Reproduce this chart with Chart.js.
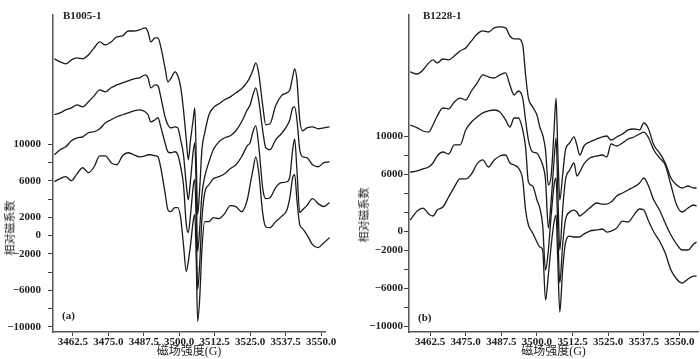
<!DOCTYPE html>
<html>
<head>
<meta charset="utf-8">
<script src="https://cdn.jsdelivr.net/npm/chart.js@4.4.0/dist/chart.umd.min.js"></script>
<style>
    body { margin: 0; background: #fff; width: 700px; height: 359px; position: relative; overflow: hidden; }
    canvas { position: absolute; top: 0; }
    .lbl { position: absolute; font-family: 'Liberation Serif', serif; font-weight: bold; font-size: 11px; color: #222; white-space: nowrap; }
    .ytitle { position: absolute; font-family: 'Noto Sans CJK SC', sans-serif; font-size: 11px; color: #222; white-space: nowrap; transform: translate(-50%, -50%) rotate(-90deg); }
</style>
</head>
<body>
<canvas id="chartA" width="350" height="359" style="left:0"></canvas>
<canvas id="chartB" width="350" height="359" style="left:350px"></canvas>

<div class="lbl" style="left:63px;top:9px">B1005-1</div>
<div class="lbl" style="left:423px;top:9px">B1228-1</div>
<div class="lbl" style="left:62px;top:309px">(a)</div>
<div class="lbl" style="left:418px;top:311px">(b)</div>
<div class="ytitle" style="left:9px;top:228px">相对磁系数</div>
<div class="ytitle" style="left:363px;top:215px">相对磁系数</div>

<script>
// field (G) and relative magnetic values
const xTicks = [3462.5, 3475.0, 3487.5, 3500.0, 3512.5, 3525.0, 3537.5, 3550.0];
const yTicks = [-10000, -8000, -6000, -4000, -2000, 0, 2000, 4000, 6000, 8000, 10000];
const leftYLabels = [10000, 6000, 2000, 0, -2000, -6000, -10000];
const rightYLabels = [10000, 6000, 0, -2000, -6000, -10000];

// panel (a) B1005-1
const leftField = [3456,3458,3460,3462,3464,3466,3468,3470,3472,3474,3476,3478,3480,3482,3484,3486,3488,3489,3490,3491.5,
    3492.5,3493.5,3495,3496,3497,3498.5,3499.5,3500.5,3501.5,3502.5,3503.2,3504,3505,3505.5,3506,3506.5,3507.2,3508,3509,3510.5,
    3512,3514,3516,3518,3520,3522,3524,3525,3526,3527,3528,3529.5,3530.5,3532,3534,3536,3538,3539,3540,3540.7,
    3541.5,3542.5,3543.5,3545,3547,3549,3551,3553,3555];
const left1 = [19350,19020,18800,19240,19450,19350,19780,20550,21200,20880,21200,21750,21860,22400,22400,22520,22730,22300,21200,21640,
    21640,20660,18360,16830,17160,17930,17490,16290,13770,10490,8310,10490,12900,13990,8310,2300,5030,9400,11260,13230,
    13990,14430,14870,15190,15630,16070,16830,17380,18140,18910,17820,14100,12130,12240,14210,15300,15630,15960,17380,18250,
    17050,12680,11480,11800,11910,11700,11800,11910,11700];
const left2 = [13230,13440,13770,13990,14320,14100,14650,15300,15960,15740,16180,16500,16720,16940,17160,17270,17600,17270,16180,16500,
    16400,15190,13010,12130,11800,11910,11800,10490,8850,5570,3930,6120,9400,10160,5030,-1750,660,4480,6450,8090,
    9400,10270,10710,10930,11480,12460,13770,14320,15410,16180,14870,11370,9620,9400,10490,11150,12020,12680,13990,14100,
    12680,9400,8630,8530,7760,7540,7980,8090,8420];
const left3 = [8850,9400,9730,10380,10710,10820,11260,11370,11700,12350,12680,13010,13230,13440,13660,13770,13550,13230,12460,12680,
    12900,11910,10160,9180,9070,9180,8850,7540,5570,1200,330,2300,5570,6120,1200,-5900,-3170,1750,4700,5570,
    6230,6450,6780,7320,7760,8630,9840,10160,11370,12020,9950,5030,4040,4150,5250,5790,5900,6450,9400,10600,
    7210,2510,2840,3280,4040,3500,3170,3610,3830];
const left4 = [5900,6230,6450,6010,6780,7430,6890,7540,8740,8740,7980,7760,8740,9070,8850,8630,8740,8850,8850,8740,
    8630,7430,4700,2840,2620,3060,3060,1970,-980,-3930,-2840,-980,1750,2300,-2620,-9400,-7000,-1530,1530,1530,
    1970,1860,2400,3280,3170,2620,3930,5570,7210,8630,7000,2300,980,870,1530,2080,2840,4150,6340,6670,
    3930,1200,770,110,-980,-1310,-770,-220,550];

// panel (b) B1228-1
const rightField = [3455.5,3458,3460,3462,3463.5,3465,3467,3469,3471,3473,3475,3477,3479,3481,3483,3485,3487,3489,3490.5,3492,
    3493.5,3495,3496,3497,3498.5,3500,3501,3502,3503,3504,3505,3506,3506.7,3507.3,3508,3509,3510,3511.5,3513,3514,
    3515,3516.5,3518.5,3521,3523,3524.5,3526,3528,3530,3532,3534,3536,3537.5,3539,3541,3543,3545,3547,3549,3551,
    3553,3555,3556];
const right1 = [16740,16530,16950,17690,18010,17690,18110,18010,18430,18950,19270,20010,20740,21060,20950,21380,21480,21380,20530,20220,
    20220,19590,16430,14000,13060,12210,10950,10110,8530,4840,5900,10640,14000,8530,3260,5900,8530,9270,9900,9060,
    8000,8950,9370,9690,9900,10000,9580,9900,10210,10640,10740,10640,11370,10850,9060,8210,7160,5580,4840,4530,
    4740,4530,4530];
const right2 = [11160,10850,10530,10420,11160,12110,12950,12850,13580,14000,13790,14740,15580,16430,16220,16110,16430,16640,15370,14320,
    14740,14000,11690,9580,8320,8210,7690,6950,5370,320,3260,7480,9790,4320,-2000,2210,5370,6420,7160,5790,
    6210,7060,7690,7900,8000,7790,9160,8950,9270,9690,9900,10210,10420,9900,8530,7690,6950,4840,2740,2000,
    2420,2740,2630];
const right3 = [6210,6320,6530,6740,7160,7900,8320,8110,9060,9060,10640,11480,12000,12430,12640,12740,12530,11690,10950,11900,
    11900,10640,8850,5160,4740,3260,2420,630,-4110,-2000,1680,4840,5580,110,-5480,-1470,1160,2000,2210,2000,
    1580,1900,2420,2950,2840,2840,3050,3690,4000,4320,4630,5050,5580,4840,3260,2210,840,-420,-1370,-2000,
    -2000,-1370,-1160];
const right4 = [1160,2110,2420,1790,1580,2210,2530,3580,4630,5480,5480,6000,7060,7480,6740,7480,7900,8000,7160,6950,
    6630,5370,2210,630,-210,-1160,-1680,-2000,-7270,-4630,-1470,950,1680,-3050,-8530,-4110,-1260,-530,-630,-630,
    -630,-320,0,110,210,-110,0,320,1050,950,1680,2320,2210,1160,-110,-1050,-2320,-4110,-5050,-5480,
    -5050,-4740,-4740];

const tickFont = { family: "'Liberation Serif', serif", size: 11, weight: 'bold' };

function makeChart(id, field, curves, xMin, xMax, yMin, yMax, yLabels, axisWidth, padRight, yPad) {
    let ctx = document.getElementById(id).getContext('2d');
    let datasets = curves.map(function (c) {
        return {
            data: field.map((x, i) => ({ x: x, y: c[i] })),
            borderColor: '#1a1a1a',
            borderWidth: 1.3,
            pointRadius: 0,
            fill: false,
            cubicInterpolationMode: 'monotone',
            clip: false
        };
    });
    return new Chart(ctx, {
        type: 'line',
        data: { datasets: datasets },
        options: {
            responsive: false,
            animation: false,
            devicePixelRatio: 1,
            layout: { padding: { top: 15, right: padRight, left: 0, bottom: 0 } },
            plugins: { legend: { display: false }, tooltip: { enabled: false } },
            scales: {
                x: {
                    type: 'linear',
                    min: xMin,
                    max: xMax,
                    afterBuildTicks: (scale) => { scale.ticks = xTicks.map(v => ({ value: v })); },
                    afterFit: (scale) => { scale.height = 27; },
                    ticks: { font: tickFont, color: '#222', padding: 0, maxRotation: 0, callback: (v) => v.toFixed(1) },
                    grid: { display: true, drawOnChartArea: false, drawTicks: true, tickLength: 4, color: '#444' },
                    border: { display: true, color: '#555', width: 1.5 },
                    title: { display: true, text: '磁场强度(G)', color: '#222', padding: { top: 0, bottom: 0 },
                        font: { family: "'Liberation Serif', 'Noto Sans CJK SC', serif", size: 12 } }
                },
                y: {
                    min: yMin,
                    max: yMax,
                    afterBuildTicks: (scale) => { scale.ticks = yTicks.map(v => ({ value: v })); },
                    afterFit: (scale) => { scale.width = axisWidth; },
                    ticks: {
                        font: tickFont, color: '#222', padding: yPad,
                        callback: (v) => yLabels.includes(v) ? (v < 0 ? '\u2212' + Math.abs(v) : String(v)) : ''
                    },
                    grid: { display: true, drawOnChartArea: false, drawTicks: true, tickLength: 5, color: '#444' },
                    border: { display: true, color: '#555', width: 1.5 }
                }
            }
        }
    });
}

makeChart('chartA', leftField, [left1, left2, left3, left4], 3455.5, 3551.4, -10550, 24150, leftYLabels, 53, 25, 7);
makeChart('chartB', rightField, [right1, right2, right3, right4], 3455.1, 3556.5, -10630, 22740, rightYLabels, 59, 2, 1);
</script>
</body>
</html>
